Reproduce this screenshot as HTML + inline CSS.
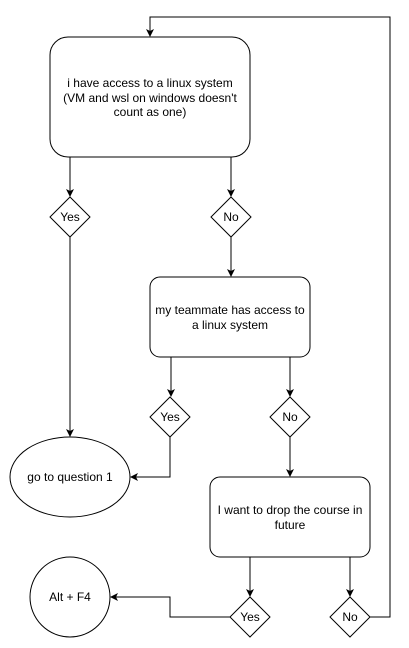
<!DOCTYPE html>
<html><head><style>body{margin:0;background:#fff}svg{display:block}text{font-family:"Liberation Sans",sans-serif;font-size:12px;fill:#000}</style></head><body>
<svg width="409" height="648" viewBox="0 0 409 648">
<defs><marker id="a" markerWidth="8" markerHeight="8" refX="7" refY="4" orient="auto" markerUnits="userSpaceOnUse"><path d="M0,0 L8,4 L0,8 L2,4 Z" fill="#000"/></marker></defs>
<g fill="none" stroke="#000" stroke-width="1">
<rect x="50" y="37" width="200" height="120" rx="18"/>
<rect x="150" y="277" width="160" height="80" rx="10"/>
<rect x="210" y="477" width="160" height="80" rx="10"/>
<ellipse cx="70" cy="477" rx="60" ry="40"/>
<circle cx="70" cy="597" r="40"/>
<path d="M70,197 L90,217 L70,237 L50,217 Z"/>
<path d="M231,197 L251,217 L231,237 L211,217 Z"/>
<path d="M170,397 L190,417 L170,437 L150,417 Z"/>
<path d="M290,397 L310,417 L290,437 L270,417 Z"/>
<path d="M250,597 L270,617 L250,637 L230,617 Z"/>
<path d="M350,597 L370,617 L350,637 L330,617 Z"/>
<path d="M70,157 V196" marker-end="url(#a)"/>
<path d="M231,157 V196" marker-end="url(#a)"/>
<path d="M231,237 V276" marker-end="url(#a)"/>
<path d="M70,237 V436" marker-end="url(#a)"/>
<path d="M171,357 V396" marker-end="url(#a)"/>
<path d="M290,357 V396" marker-end="url(#a)"/>
<path d="M170,437 V477 H131" marker-end="url(#a)"/>
<path d="M290,437 V476" marker-end="url(#a)"/>
<path d="M250,557 V596" marker-end="url(#a)"/>
<path d="M350,557 V596" marker-end="url(#a)"/>
<path d="M230,617 H170 V597 H111" marker-end="url(#a)"/>
<path d="M370,617 H390 V17 H150 V36" marker-end="url(#a)"/>
</g>
<g text-anchor="middle">
<text x="150" y="87">i have access to a linux system</text>
<text x="150" y="102">(VM and wsl on windows doesn't</text>
<text x="150" y="116">count as one)</text>
<text x="70" y="221">Yes</text>
<text x="231" y="221">No</text>
<text x="230" y="314">my teammate has access to</text>
<text x="230" y="329">a linux system</text>
<text x="170" y="421">Yes</text>
<text x="290" y="421">No</text>
<text x="70" y="481">go to question 1</text>
<text x="290" y="514">I want to drop the course in</text>
<text x="290" y="529">future</text>
<text x="70" y="601">Alt + F4</text>
<text x="250" y="621">Yes</text>
<text x="350" y="621">No</text>
</g>
</svg>
</body></html>
